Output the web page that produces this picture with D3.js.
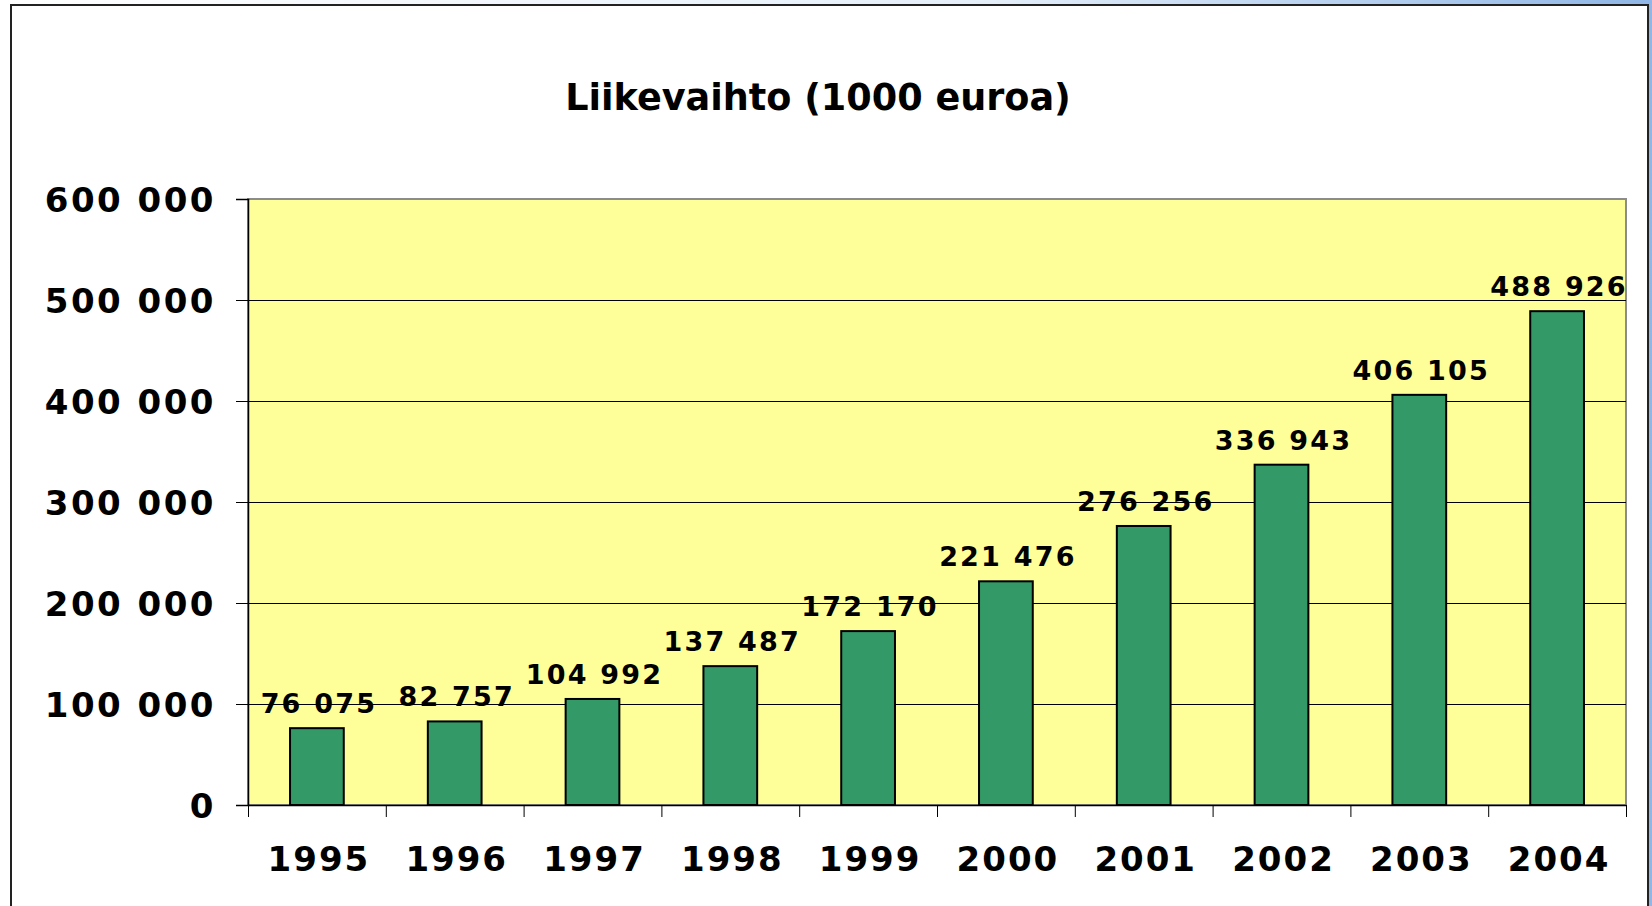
<!DOCTYPE html>
<html>
<head>
<meta charset="utf-8">
<script src="https://cdn.jsdelivr.net/npm/d3@7"></script>
<style>
  body { margin: 0; background: #fff; }
  svg { display: block; }
  text { font-family: "DejaVu Sans", Verdana, sans-serif; font-weight: bold; }
</style>
</head>
<body>
<div id="chart"></div>
<script>
// data
const years = ["1995", "1996", "1997", "1998", "1999", "2000", "2001", "2002", "2003", "2004"];
const revenue = [76075, 82757, 104992, 137487, 172170, 221476, 276256, 336943, 406105, 488926];
const yTicks = [0, 100000, 200000, 300000, 400000, 500000, 600000];
const title = "Liikevaihto (1000 euroa)";

const width = 1652, height = 906;
const plot = { left: 248, right: 1626, top: 199, bottom: 805 };
const FONT = "DejaVu Sans, Verdana, sans-serif";

const svg = d3.select("#chart").append("svg")
    .attr("width", width)
    .attr("height", height);

// slide-ish background behind the frame
const grad = svg.append("defs").append("linearGradient")
    .attr("id", "bg").attr("x1", "0").attr("x2", "1").attr("y1", "0").attr("y2", "0");
grad.append("stop").attr("offset", "0").attr("stop-color", "#ffffff");
grad.append("stop").attr("offset", "0.6").attr("stop-color", "#e4eef9");
grad.append("stop").attr("offset", "1").attr("stop-color", "#8fb6e6");
svg.append("rect").attr("width", width).attr("height", height).attr("fill", "url(#bg)");

// chart frame
svg.append("rect")
    .attr("x", 11).attr("y", 5)
    .attr("width", 1637).attr("height", 920)
    .attr("fill", "#fff")
    .attr("stroke", "#222")
    .attr("stroke-width", 2);

const fmt = v => d3.format(",")(v).replace(/,/g, " ");

const x = d3.scaleBand()
    .domain(years)
    .range([plot.left, plot.right])
    .paddingInner(0.61)
    .paddingOuter(0.305);

const y = d3.scaleLinear()
    .domain([0, 600000])
    .range([plot.bottom, plot.top]);

// plot area
svg.append("rect")
    .attr("x", plot.left).attr("y", plot.top)
    .attr("width", plot.right - plot.left)
    .attr("height", plot.bottom - plot.top)
    .attr("fill", "#ffff99")
    .attr("stroke", "#8c8c8c")
    .attr("stroke-width", 2);

// gridlines
svg.append("g")
    .selectAll("line")
    .data(yTicks.filter(d => d > 0 && d < 600000))
    .enter().append("line")
    .attr("x1", plot.left).attr("x2", plot.right)
    .attr("y1", d => y(d) + 0.5).attr("y2", d => y(d) + 0.5)
    .attr("stroke", "#000")
    .attr("stroke-width", 1);

// y axis
const yAxis = svg.append("g")
    .attr("transform", `translate(${plot.left},0)`)
    .call(d3.axisLeft(y).tickValues(yTicks).tickSize(12).tickPadding(20).tickFormat(fmt))
    .attr("font-family", FONT)
    .attr("font-size", 34);
yAxis.select(".domain").attr("stroke", "#000").attr("stroke-width", 1.5);
yAxis.selectAll(".tick line").attr("stroke", "#000");
yAxis.selectAll("text")
    .attr("fill", "#000")
    .style("letter-spacing", "2.5px")
    .attr("dy", "0.36em");

// x axis
const xAxis = svg.append("g")
    .attr("transform", `translate(0,${plot.bottom})`)
    .call(d3.axisBottom(x).tickSize(0).tickPadding(42))
    .attr("font-family", FONT)
    .attr("font-size", 34);
xAxis.select(".domain").attr("stroke", "#000").attr("stroke-width", 1.5);
xAxis.selectAll("text")
    .attr("fill", "#000")
    .attr("dx", "2px")
    .style("letter-spacing", "2px");

// x category separators
const step = x.step();
svg.append("g")
    .selectAll("line")
    .data(d3.range(years.length + 1))
    .enter().append("line")
    .attr("x1", i => plot.left + i * step + 0.5)
    .attr("x2", i => plot.left + i * step + 0.5)
    .attr("y1", plot.bottom).attr("y2", plot.bottom + 12)
    .attr("stroke", "#000");

// bars
svg.append("g")
    .selectAll("rect")
    .data(revenue)
    .enter().append("rect")
    .attr("x", (d, i) => x(years[i]))
    .attr("y", d => y(d))
    .attr("width", x.bandwidth())
    .attr("height", d => plot.bottom - y(d))
    .attr("fill", "#339966")
    .attr("stroke", "#000")
    .attr("stroke-width", 2);

// value labels
svg.append("g")
    .selectAll("text")
    .data(revenue)
    .enter().append("text")
    .attr("x", (d, i) => x(years[i]) + x.bandwidth() / 2 + 2)
    .attr("y", d => y(d) - 15)
    .attr("text-anchor", "middle")
    .attr("font-size", 27)
    .style("letter-spacing", "2.2px")
    .text(fmt);

// title
svg.append("text")
    .attr("x", 818)
    .attr("y", 110)
    .attr("text-anchor", "middle")
    .attr("font-size", 36.6)
    .text(title);
</script>
</body>
</html>
